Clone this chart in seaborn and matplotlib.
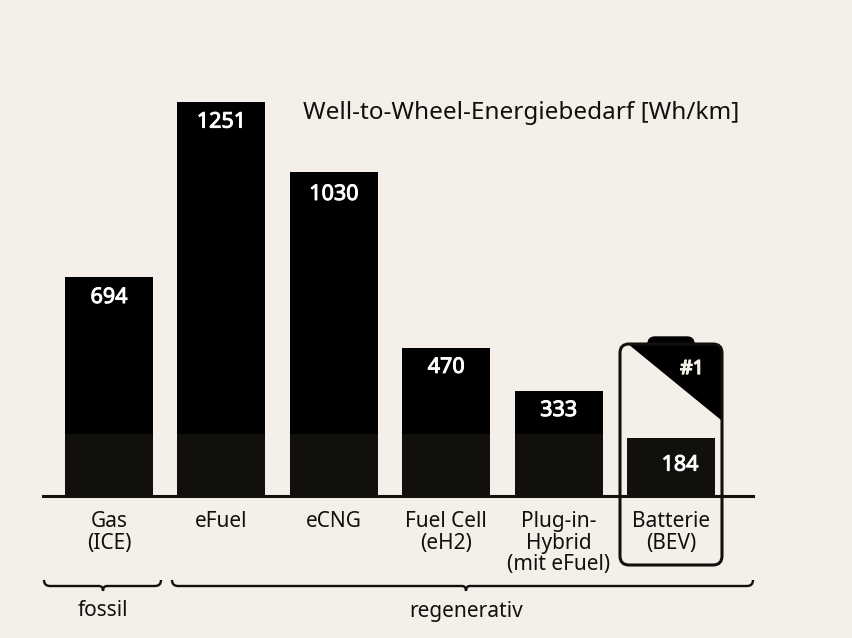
#!/usr/bin/env python3
"""Well-to-wheel energy demand per drivetrain, battery bar highlighted."""
import matplotlib
matplotlib.use('Agg')
import matplotlib.pyplot as plt
import matplotlib.patheffects as pe
from matplotlib.patches import FancyBboxPatch, Polygon
from matplotlib.path import Path
from matplotlib.patches import PathPatch
import seaborn as sns

# Data
categories = ['Gas\n(ICE)', 'eFuel\n\n', 'eCNG\n\n', 'Fuel Cell\n(eH2)',
              'Plug-in-\nHybrid\n(mit eFuel)', 'Batterie\n(BEV)']
energy_values = [694, 1251, 1030, 470, 333, 184]
base_values = [197, 197, 197, 197, 197, 184]

BG = '#f5efea'
DARK = '#12100d'
W, H = 852, 638

sns.set_theme(style='white', rc={'figure.facecolor': BG, 'axes.facecolor': BG})
plt.rcParams['font.family'] = ['Noto Sans', 'DejaVu Sans']

fig = plt.figure(figsize=(W / 100, H / 100), dpi=100)

# main axes: baseline at y=496, spans x=43..753 in pixels
ax = fig.add_axes([43 / W, 1 - 496 / H, 710 / W, 406 / H])
sns.barplot(x=categories, y=energy_values, color='black', saturation=1, width=0.783,
            linewidth=0, ax=ax)
sns.barplot(x=categories, y=base_values, color=DARK, saturation=1, width=0.783,
            linewidth=0, ax=ax)
ax.set_xlim(-0.587, 5.73)
ax.set_ylim(0, 1289)
ax.set_yticks([])
ax.set_ylabel('')
sns.despine(ax=ax, left=True)
ax.spines['bottom'].set_color(DARK)
ax.spines['bottom'].set_linewidth(2.2)
ax.tick_params(axis='x', length=0, pad=11, labelsize=15, labelcolor=DARK)
for lab in ax.get_xticklabels():
    lab.set_linespacing(1.02)
    lab.set_verticalalignment('top')

# value labels inside the bars, no semibold face installed so thicken with a stroke
label_drop = [14.5, 14.5, 16.5, 14, 14, 19.5]
for i, v in enumerate(energy_values):
    dx = 6.5 if i == 5 else 0
    ax.annotate(str(v), xy=(i, v), xytext=(dx, -label_drop[i]), textcoords='offset points',
                ha='center', va='center', color='white', fontsize=15.5,
                path_effects=[pe.withStroke(linewidth=0.7, foreground='white')])

# overlay in pixel coordinates for the battery and the braces
ov = fig.add_axes([0, 0, 1, 1], facecolor='none')
ov.set_xlim(0, W)
ov.set_ylim(H, 0)
ov.axis('off')

# battery cap and black corner
ov.add_patch(FancyBboxPatch((648, 337), 46, 14, boxstyle='round,pad=0,rounding_size=7',
                            fc='black', ec='black', lw=1))
ov.add_patch(Polygon([(628, 344), (716, 344), (723, 351), (723, 420), (721, 420)],
                     closed=True, fc='black', ec='none'))
ov.add_patch(FancyBboxPatch((620, 344), 102, 221, boxstyle='round,pad=0,rounding_size=9',
                            fc='none', ec=DARK, lw=2.2))
ov.text(692, 369, '#1', ha='center', va='center', color=BG, fontsize=14,
        path_effects=[pe.withStroke(linewidth=1.0, foreground=BG)])


def brace(x0, x1, xm):
    verts = [(x0, 580), (x0, 586), (x0 + 6, 586), (xm - 4, 586), (xm, 586), (xm, 591),
             (xm, 586), (xm + 4, 586), (x1 - 6, 586), (x1, 586), (x1, 580)]
    codes = [Path.MOVETO, Path.CURVE3, Path.CURVE3, Path.LINETO, Path.CURVE3, Path.CURVE3,
             Path.CURVE3, Path.CURVE3, Path.LINETO, Path.CURVE3, Path.CURVE3]
    ov.add_patch(PathPatch(Path(verts, codes), fc='none', ec=DARK, lw=1.7))


brace(44, 161, 103)
brace(172, 753, 466)
ov.text(103, 611, 'fossil', ha='center', va='center', color=DARK, fontsize=15)
ov.text(466, 611, 'regenerativ', ha='center', va='center', color=DARK, fontsize=15)
ov.text(521, 113, 'Well-to-Wheel-Energiebedarf [Wh/km]', ha='center', va='center',
        color=DARK, fontsize=17.5)

fig.savefig('out.png', dpi=100, facecolor=BG)
